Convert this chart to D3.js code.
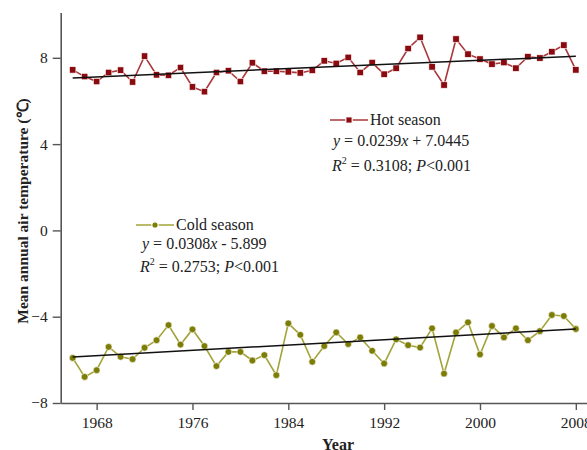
<!DOCTYPE html>
<html>
<head>
<meta charset="utf-8">
<script src="https://cdn.jsdelivr.net/npm/d3@7"></script>
<style>
  html, body { margin: 0; padding: 0; background: #fff; }
  svg { display: block; }
  text { font-family: "Liberation Serif", "Times New Roman", serif; fill: #222; }
</style>
</head>
<body>
<svg id="chart" width="587" height="450"></svg>
<script>
const years = d3.range(1966, 2009);
const hotSeason = [7.44, 7.13, 6.90, 7.32, 7.43, 6.88, 8.08, 7.21, 7.19, 7.55,
  6.65, 6.43, 7.32, 7.40, 6.90, 7.77, 7.38, 7.38, 7.35, 7.30,
  7.42, 7.86, 7.74, 8.02, 7.32, 7.78, 7.24, 7.52, 8.43, 8.95,
  7.58, 6.74, 8.87, 8.17, 7.94, 7.71, 7.78, 7.52, 8.05, 7.99,
  8.28, 8.59, 7.44];
const coldSeason = [-5.91, -6.79, -6.48, -5.40, -5.86, -5.97, -5.44, -5.09, -4.39, -5.29,
  -4.59, -5.36, -6.29, -5.63, -5.63, -6.03, -5.78, -6.71, -4.31, -4.84,
  -6.09, -5.36, -4.73, -5.27, -4.96, -5.58, -6.17, -5.05, -5.32, -5.43,
  -4.54, -6.64, -4.73, -4.26, -5.75, -4.43, -4.96, -4.54, -5.09, -4.67,
  -3.92, -3.97, -4.57];
const hotFit = { slope: 0.0239, intercept: 7.0445 };
const coldFit = { slope: 0.0308, intercept: -5.899 };
const xTicks = [1968, 1976, 1984, 1992, 2000, 2008];
const yTicks = [-8, -4, 0, 4, 8];

const svg = d3.select("#chart");
const x = d3.scaleLinear().domain([1965, 2009]).range([60.7, 587.8]);
const y = d3.scaleLinear().domain([-8, 10.1]).range([403, 12.5]);

const axisColor = "#555";

// axes
const xAxis = svg.append("g").attr("transform", "translate(0,403)")
  .call(d3.axisBottom(x).tickValues(xTicks).tickFormat(d3.format("d")).tickSize(7).tickSizeOuter(0).tickPadding(7));
const yAxis = svg.append("g").attr("transform", "translate(60.7,0)")
  .call(d3.axisLeft(y).tickValues(yTicks).tickSize(8).tickSizeOuter(0).tickPadding(5));
[xAxis, yAxis].forEach(g => {
  g.selectAll("path.domain").attr("stroke", axisColor).attr("stroke-width", 1.6);
  g.selectAll(".tick line").attr("stroke", axisColor).attr("stroke-width", 1.4);
  g.selectAll(".tick text").attr("font-size", 15.5).attr("fill", "#222")
    .attr("font-family", "'Liberation Serif', 'Times New Roman', serif");
});

// axis titles
svg.append("text").attr("x", 338).attr("y", 450).attr("text-anchor", "middle")
  .attr("font-size", 16).attr("font-weight", "bold").text("Year");
svg.append("text").attr("transform", "translate(28,211) rotate(-90)").attr("text-anchor", "middle")
  .attr("font-size", 15.5).attr("font-weight", "bold").text("Mean annual air temperature (℃)");

const hotLine = "#a8383c", hotMark = "#8b0a10";
const coldLine = "#a3a33a", coldMark = "#7d7d05";

function series(data, lineColor, markColor, shape) {
  const pts = years.map((yr, i) => [yr, data[i]]);
  svg.append("path").datum(pts)
    .attr("fill", "none").attr("stroke", lineColor).attr("stroke-width", 1.6)
    .attr("d", d3.line().x(d => x(d[0])).y(d => y(d[1])));
  const g = svg.append("g");
  if (shape === "square") {
    g.selectAll("rect").data(pts).join("rect")
      .attr("x", d => x(d[0]) - 3.2).attr("y", d => y(d[1]) - 3.2)
      .attr("width", 6.4).attr("height", 6.4)
      .attr("fill", markColor).attr("stroke", "#fff").attr("stroke-width", 0.6);
  } else {
    g.selectAll("circle").data(pts).join("circle")
      .attr("cx", d => x(d[0])).attr("cy", d => y(d[1])).attr("r", 3.4)
      .attr("fill", markColor).attr("stroke", "#fff").attr("stroke-width", 0.6);
  }
}

function trend(fit) {
  const pts = [years[0], years[years.length - 1]].map(yr => [yr, fit.slope * (yr - 1965) + fit.intercept]);
  svg.append("path").datum(pts).attr("fill", "none").attr("stroke", "#111").attr("stroke-width", 1.5)
    .attr("d", d3.line().x(d => x(d[0])).y(d => y(d[1])));
}

series(hotSeason, hotLine, hotMark, "square");
series(coldSeason, coldLine, coldMark, "circle");
trend(hotFit);
trend(coldFit);

// legends
function legend(lx, ly, lineColor, markColor, shape, label, a, b, sign, r2) {
  svg.append("line").attr("x1", lx).attr("x2", lx + 38).attr("y1", ly - 5).attr("y2", ly - 5)
    .attr("stroke", lineColor).attr("stroke-width", 1.6);
  if (shape === "square") {
    svg.append("rect").attr("x", lx + 19 - 3.2).attr("y", ly - 5 - 3.2).attr("width", 6.4).attr("height", 6.4)
      .attr("fill", markColor).attr("stroke", "#fff").attr("stroke-width", 1.2);
  } else {
    svg.append("circle").attr("cx", lx + 19).attr("cy", ly - 5).attr("r", 3.2)
      .attr("fill", markColor).attr("stroke", "#fff").attr("stroke-width", 1.2);
  }
  svg.append("text").attr("x", lx + 40).attr("y", ly).attr("font-size", 16).text(label);
}

legend(330, 125, hotLine, hotMark, "square", "Hot season");
legend(136, 230, coldLine, coldMark, "circle", "Cold season");

function eqText(tx, ty, slope, intercept) {
  const t = svg.append("text").attr("x", tx).attr("y", ty).attr("font-size", 16);
  t.append("tspan").attr("font-style", "italic").text("y");
  t.append("tspan").text(" = " + slope + "");
  t.append("tspan").attr("font-style", "italic").text("x");
  t.append("tspan").text(intercept);
}
function r2Text(tx, ty, r2) {
  const t = svg.append("text").attr("x", tx).attr("y", ty).attr("font-size", 16);
  t.append("tspan").attr("font-style", "italic").text("R");
  t.append("tspan").attr("font-size", 10).attr("dy", -7).text("2");
  t.append("tspan").attr("dy", 7).text(" = " + r2 + "; ");
  t.append("tspan").attr("font-style", "italic").text("P");
  t.append("tspan").text("<0.001");
}

eqText(333, 146, "0.0239", " + 7.0445");
r2Text(332, 171, "0.3108");
eqText(142, 249, "0.0308", " - 5.899");
r2Text(140, 272, "0.2753");
</script>
</body>
</html>
